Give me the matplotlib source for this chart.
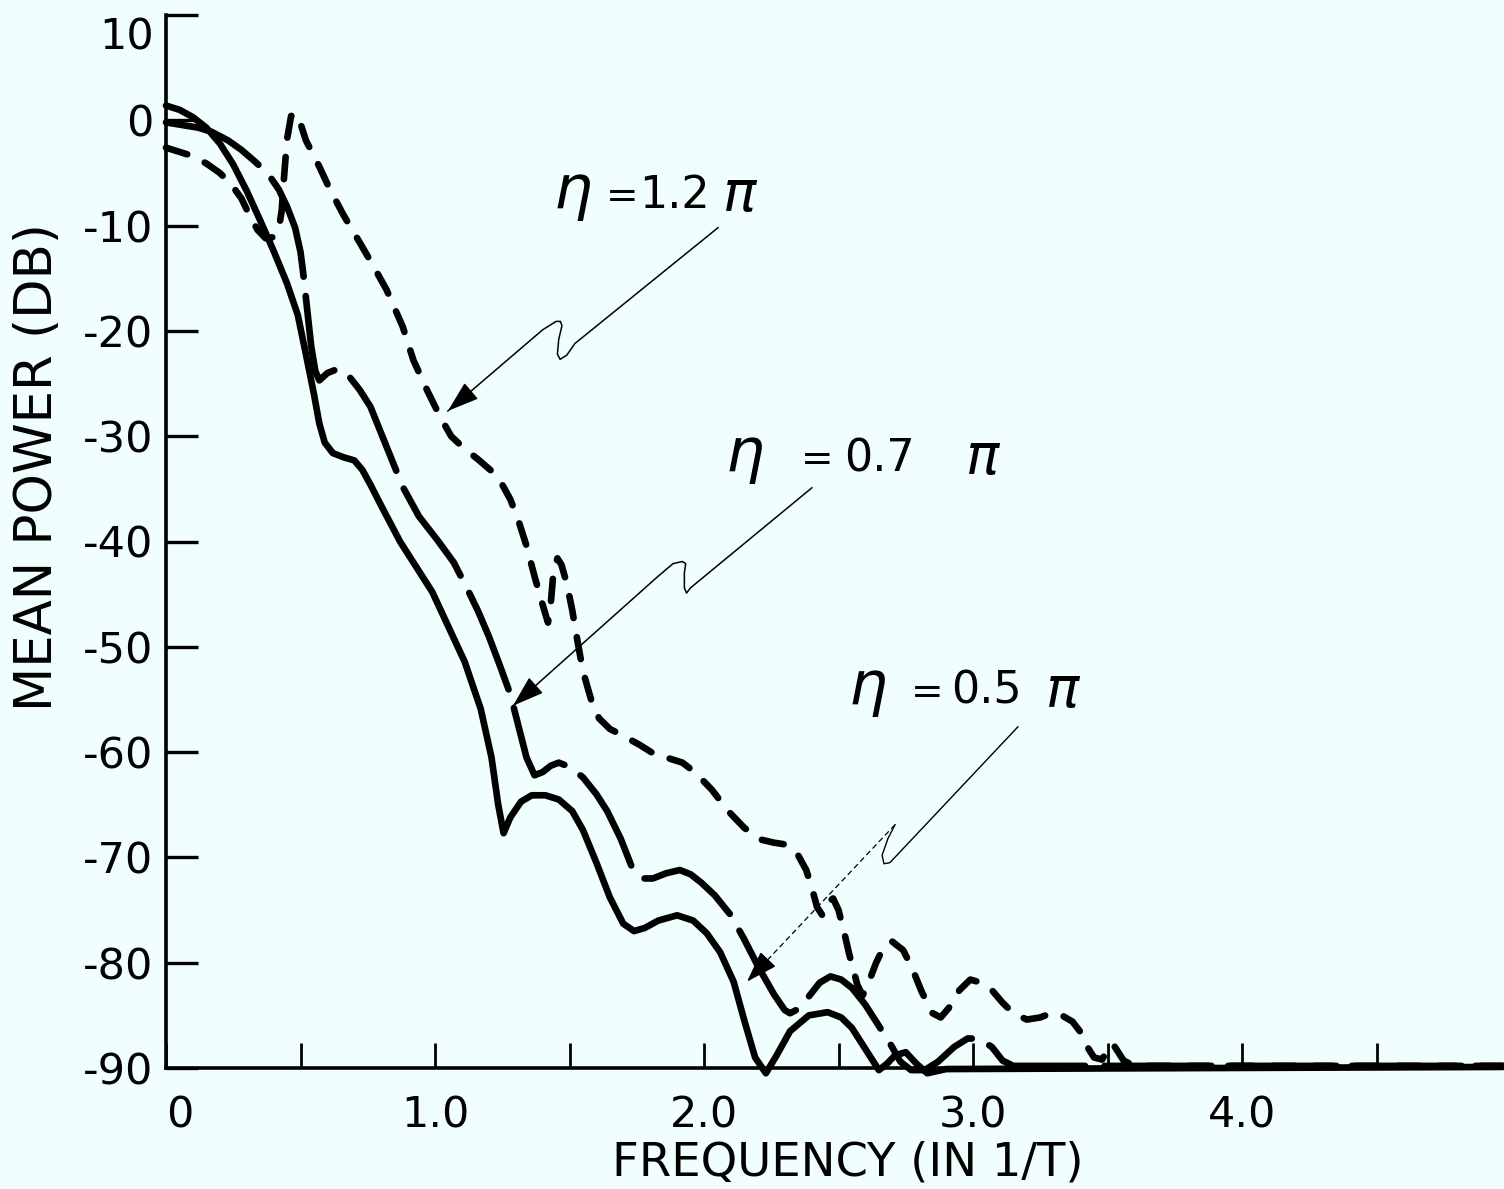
import matplotlib
matplotlib.use("Agg")
import matplotlib.pyplot as plt
from matplotlib.transforms import ScaledTranslation

# Mean power spectra (dB) against frequency (in 1/T) for three values of eta
freq_05 = [0.00, 0.05, 0.10, 0.15, 0.20, 0.25, 0.30, 0.35, 0.40, 0.45, 0.49,
           0.52, 0.55, 0.57, 0.59, 0.62, 0.66, 0.70, 0.73, 0.76, 0.80, 0.87,
           0.99, 1.11, 1.17, 1.21, 1.235, 1.255, 1.28, 1.32, 1.36, 1.41, 1.46,
           1.51, 1.55, 1.60, 1.65, 1.70, 1.74, 1.78, 1.83, 1.90, 1.96, 2.01,
           2.06, 2.11, 2.15, 2.19, 2.23, 2.27, 2.32, 2.39, 2.46, 2.51, 2.55,
           2.60, 2.65, 2.68, 2.71, 2.75, 2.79, 2.83, 2.90, 4.97]
power_05 = [1.4, 1.0, 0.3, -0.7, -2.2, -4.2, -6.7, -9.5, -12.4, -15.5, -18.5,
            -22.2, -26.0, -28.8, -30.6, -31.6, -32.0, -32.3, -33.2, -34.6, -36.6, -40.0,
            -44.8, -51.4, -55.9, -60.5, -65.0, -67.7, -66.2, -64.7, -64.1, -64.1, -64.5,
            -65.6, -67.4, -70.5, -73.8, -76.3, -77.0, -76.7, -76.0, -75.5, -76.0, -77.2,
            -79.0, -81.8, -85.5, -89.0, -90.5, -88.8, -86.5, -85.0, -84.7, -85.2, -86.2,
            -88.2, -90.2, -89.6, -88.8, -88.5, -89.6, -90.5, -90.1, -89.9]

freq_07 = [0.00, 0.06, 0.12, 0.17, 0.23, 0.28, 0.33, 0.38, 0.42, 0.45, 0.48,
           0.50, 0.51, 0.525, 0.54, 0.555, 0.57, 0.60, 0.64, 0.68, 0.72, 0.76,
           0.82, 0.88, 0.94, 1.01, 1.07, 1.12, 1.16, 1.20, 1.24, 1.28, 1.31,
           1.34, 1.37, 1.40, 1.43, 1.46, 1.50, 1.55, 1.60, 1.64, 1.69, 1.73,
           1.77, 1.81, 1.86, 1.91, 1.95, 1.99, 2.04, 2.10, 2.15, 2.20, 2.26,
           2.30, 2.32, 2.35, 2.39, 2.43, 2.47, 2.51, 2.55, 2.60, 2.65, 2.69,
           2.73, 2.77, 2.82, 2.87, 2.93, 2.98, 3.02, 3.07, 3.11, 3.15, 4.97]
power_07 = [-0.2, -0.45, -0.7, -1.1, -1.9, -2.8, -3.9, -5.1, -6.6, -8.2, -10.2,
            -12.5, -14.5, -18.0, -21.5, -23.8, -24.7, -24.0, -23.6, -24.3, -25.6, -27.2,
            -31.0, -34.8, -37.6, -39.9, -42.0, -44.5, -46.6, -49.0, -51.7, -54.5, -57.5,
            -60.5, -62.2, -61.9, -61.3, -61.0, -61.4, -62.4, -64.0, -65.6, -68.2, -70.8,
            -72.0, -72.0, -71.5, -71.2, -71.6, -72.4, -73.6, -75.5, -77.8, -80.3, -83.0,
            -84.5, -84.8, -84.4, -83.2, -81.9, -81.3, -81.6, -82.4, -84.0, -86.0, -87.6,
            -89.4, -90.2, -90.2, -89.4, -88.0, -87.2, -87.2, -88.0, -89.3, -89.8, -89.8]

freq_12 = [0.00, 0.05, 0.10, 0.15, 0.20, 0.24, 0.28, 0.31, 0.34, 0.37, 0.40,
           0.42, 0.43, 0.44, 0.45, 0.465, 0.48, 0.50, 0.52, 0.57, 0.61, 0.66,
           0.72, 0.77, 0.82, 0.88, 0.92, 0.97, 1.02, 1.06, 1.11, 1.16, 1.21,
           1.25, 1.28, 1.31, 1.34, 1.37, 1.40, 1.42, 1.43, 1.44, 1.455, 1.47,
           1.49, 1.51, 1.53, 1.55, 1.58, 1.61, 1.65, 1.71, 1.76, 1.81, 1.87,
           1.92, 1.97, 2.03, 2.09, 2.15, 2.21, 2.26, 2.31, 2.35, 2.38, 2.40,
           2.42, 2.44, 2.46, 2.48, 2.50, 2.52, 2.54, 2.57, 2.59, 2.61, 2.64,
           2.67, 2.70, 2.74, 2.77, 2.81, 2.85, 2.88, 2.91, 2.95, 2.99, 3.03,
           3.07, 3.11, 3.15, 3.20, 3.25, 3.29, 3.33, 3.37, 3.40, 3.43, 3.45,
           3.48, 3.50, 3.52, 3.54, 3.56, 3.60, 4.97]
power_12 = [-2.6, -3.0, -3.4, -4.1, -5.0, -6.0, -7.4, -9.0, -10.4, -11.2, -11.1,
            -10.2, -8.6, -5.0, -1.8, 0.4, 0.7, -0.3, -1.9, -4.4, -6.6, -9.0,
            -11.6, -13.8, -16.1, -19.6, -22.8, -25.6, -28.2, -30.0, -31.2, -32.2, -33.3,
            -34.6, -36.0, -38.0, -40.4, -43.3, -46.0, -47.7, -46.0, -43.0, -41.6, -42.2,
            -44.0, -46.5, -49.5, -52.3, -55.0, -56.8, -57.8, -58.6, -59.3, -60.1, -60.6,
            -61.0, -62.0, -63.6, -65.6, -67.2, -68.3, -68.6, -68.8, -69.8, -71.2, -72.8,
            -74.7, -75.5, -74.3, -73.9, -75.0, -77.0, -79.2, -82.1, -83.1, -82.0, -80.0,
            -78.4, -78.0, -78.8, -80.3, -82.8, -84.8, -85.2, -84.3, -82.6, -81.6, -81.9,
            -82.6, -83.8, -84.8, -85.4, -85.2, -84.8, -85.0, -85.6, -86.6, -88.2, -89.0,
            -89.2, -88.3, -87.7, -88.5, -89.3, -89.8, -89.8]

y_ticks = list(range(-90, 11, 10))
x_ticks = [0, 0.5, 1.0, 1.5, 2.0, 2.5, 3.0, 3.5, 4.0, 4.5]
x_labels = ["0", "", "1.0", "", "2.0", "", "3.0", "", "4.0", ""]

W, H = 1504, 1189
BG = "#f0fefe"

plt.rcParams["font.family"] = ["DejaVu Sans"]
plt.rcParams["axes.unicode_minus"] = False
plt.rcParams["lines.scale_dashes"] = False
plt.rcParams["mathtext.fontset"] = "dejavusans"

fig = plt.figure(figsize=(W / 100, H / 100), dpi=100, facecolor=BG)
ax = fig.add_axes([166 / W, 1 - 1068 / H, 1338 / W, 1053 / H])
ax.set_facecolor(BG)


def fxy(px, py):
    # pixel position -> figure fraction
    return px / W, 1 - py / H


curve_kw = dict(color="black", lw=4.8, solid_joinstyle="round",
                solid_capstyle="round", dash_capstyle="round",
                dash_joinstyle="round", clip_on=False, zorder=3)

ax.plot(freq_05, power_05, linestyle="-", **curve_kw)
ax.plot(freq_07, power_07, linestyle=(0, (75, 14)), **curve_kw)
ax.plot(freq_12, power_12, linestyle=(0, (16, 14)), **curve_kw)

ax.set_xlim(0, 1338 / 269)
ax.set_ylim(-90, 10)

for side in ("top", "right"):
    ax.spines[side].set_visible(False)
ax.spines["left"].set_linewidth(2.6)
ax.spines["bottom"].set_linewidth(2.6)
ax.spines["left"].set_bounds(-90, 10)

ax.set_yticks(y_ticks)
ax.set_xticks(x_ticks)
ax.set_xticklabels(x_labels)
ax.tick_params(axis="y", direction="in", length=23, width=2.4, pad=9,
               labelsize=31)
ax.tick_params(axis="x", direction="in", length=18, width=2.0, pad=19,
               labelsize=31)

# the top y label sits a little below its tick, the first x label a little right
top_label = ax.get_yticklabels()[-1]
top_label.set_transform(top_label.get_transform()
                        + ScaledTranslation(0, -0.18, fig.dpi_scale_trans))
zero_label = ax.get_xticklabels()[0]
zero_label.set_transform(zero_label.get_transform()
                         + ScaledTranslation(0.14, 0, fig.dpi_scale_trans))


# leader lines from the labels to the curves
def leader(points, tip, style="-", lw=1.1):
    xs = [p[0] for p in points] + [tip[0]]
    ys = [p[1] for p in points] + [tip[1]]
    ax.plot(xs, ys, color="black", lw=lw, linestyle=style, zorder=4,
            solid_joinstyle="round")
    px, py = points[-1]
    back = (tip[0] + (px - tip[0]) * 0.08, tip[1] + (py - tip[1]) * 0.08)
    ax.annotate("", xy=tip, xytext=back,
                arrowprops=dict(arrowstyle="-|>,head_length=0.9,head_width=0.3",
                                color="black", lw=1.1, shrinkA=0, shrinkB=0,
                                mutation_scale=22),
                zorder=5)


leader([(2.052, -10.2), (1.52, -21.2), (1.49, -22.3), (1.465, -22.7),
        (1.455, -22.2), (1.46, -20.8), (1.472, -19.5), (1.466, -19.1),
        (1.45, -19.1), (1.40, -19.9)], (1.048, -27.6))
leader([(2.401, -34.9), (1.95, -44.4), (1.935, -44.9), (1.927, -44.4),
        (1.927, -43.0), (1.932, -42.1), (1.92, -41.9), (1.885, -42.1),
        (1.825, -43.4)], (1.29, -55.6))
ax.plot([3.167, 2.691, 2.669, 2.662, 2.684, 2.71],
        [-57.6, -70.5, -70.6, -69.8, -68.2, -66.9],
        color="black", lw=1.0, zorder=4, solid_joinstyle="round")
leader([(2.71, -66.9)], (2.16, -81.8), style=(0, (4, 2.5)), lw=0.9)

# curve labels: eta, "=", value, pi
labels = [("1.2", 553, 622, 639, 722, 208),
          ("0.7", 725, 817, 844, 965, 471),
          ("0.5", 848, 927, 951, 1045, 704)]
for num, x_eta, x_eq, x_num, x_pi, base in labels:
    fig.text(*fxy(x_eta, base), r"$\eta$", fontsize=44, ha="left", va="baseline")
    fig.text(*fxy(x_eq, base), "=", fontsize=28, ha="center", va="baseline")
    fig.text(*fxy(x_num, base), num, fontsize=32, ha="left", va="baseline")
    fig.text(*fxy(x_pi, base + 3), r"$\pi$", fontsize=40, ha="left",
             va="baseline")

fig.text(*fxy(38, 467), "MEAN POWER (DB)", rotation=90, fontsize=37,
         ha="center", va="center")
fig.text(*fxy(848, 1163), "FREQUENCY (IN 1/T)", fontsize=33.5,
         ha="center", va="center")

fig.savefig("out.png", dpi=100, facecolor=BG)
